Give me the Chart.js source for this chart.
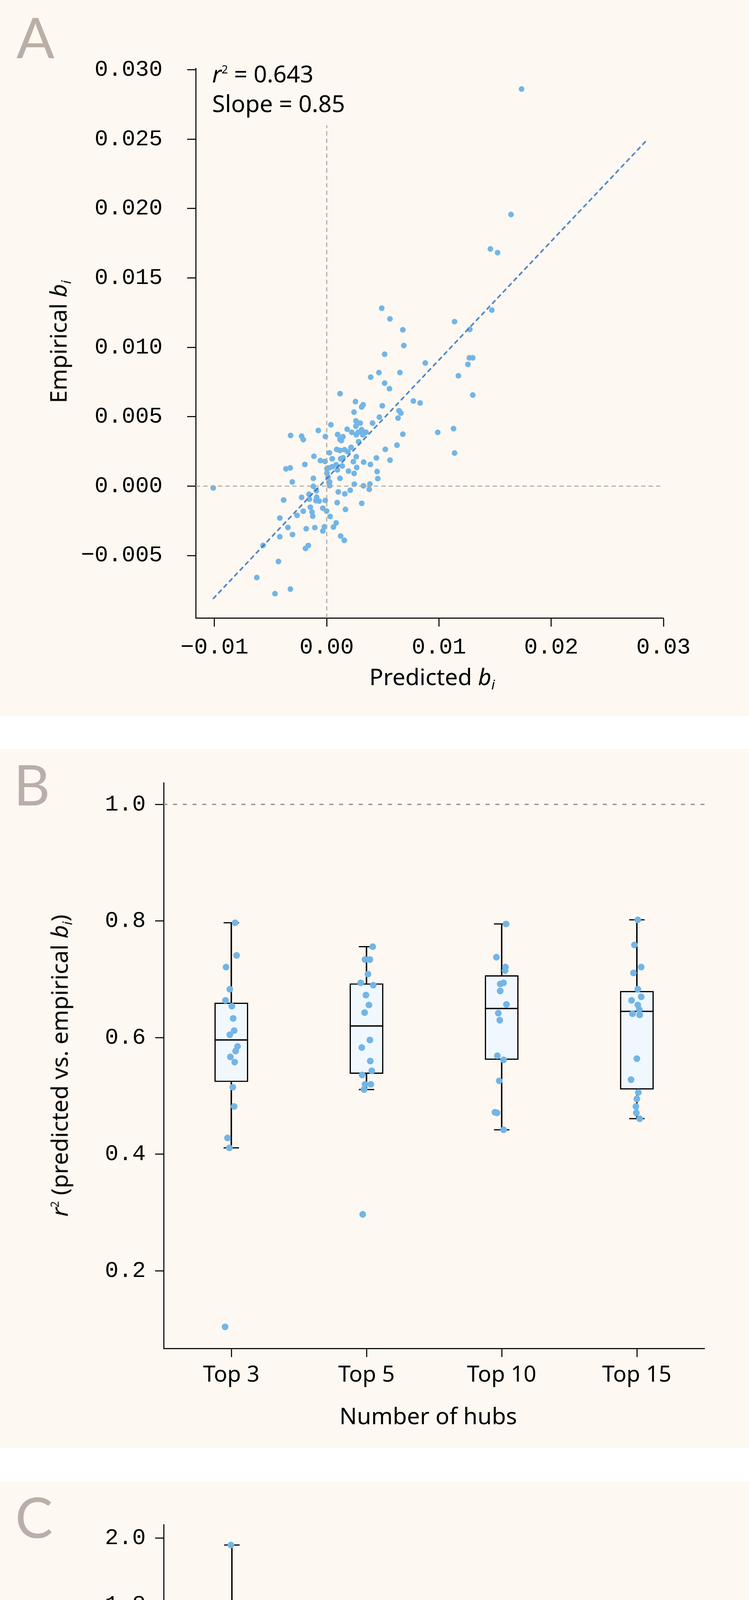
<!DOCTYPE html>
<html>
<head>
<meta charset="utf-8">
<script src="https://cdn.jsdelivr.net/npm/chart.js@4.4.1/dist/chart.umd.min.js"></script>
<style>
  body { margin: 0; background: #fff; width: 1917px; }
  .panel { position: relative; width: 1917px; background: #fdf8f1; overflow: hidden; }
  .panel canvas { position: absolute; left: 0; top: 0; }
  .gap { height: 84px; }
  .letter { position: absolute; font-family: Lato, "Noto Sans", sans-serif; font-weight: 400;
            font-size: 144px; line-height: 1; color: #b9afa6; }
  .title { position: absolute; font-family: "Noto Sans", sans-serif; font-size: 59px;
           line-height: 1; color: #000; white-space: nowrap; }
  .title sub { font-size: 0.6em; vertical-align: -0.3em; line-height: 0; font-style: italic; }
  .title sup { font-size: 0.48em; vertical-align: 0.8em; line-height: 0; }
  .xt { transform: translateX(-50%); }
  .yt { transform: translate(-50%, -50%) rotate(-90deg); }
  .note { font-size: 60px; }
</style>
</head>
<body>

<div class="panel" style="height:1833px">
  <canvas id="chartA" width="1917" height="1833"></canvas>
  <div class="letter" style="left:42px; top:22px">A</div>
  <div class="title note" style="left:543px; top:158px"><i>r</i><sup>2</sup> = 0.643</div>
  <div class="title note" style="left:543px; top:234px">Slope = 0.85</div>
  <div class="title xt" style="left:1106px; top:1702px">Predicted <i>b</i><sub>i</sub></div>
  <div class="title yt" style="left:148px; top:875px">Empirical <i>b</i><sub>i</sub></div>
</div>
<div class="gap"></div>
<div class="panel" style="height:1790px">
  <canvas id="chartB" width="1917" height="1790"></canvas>
  <div class="letter" style="left:35px; top:18px">B</div>
  <div class="title xt" style="left:1096px; top:1677px">Number of hubs</div>
  <div class="title yt" style="left:151px; top:811px"><i>r</i><sup>2</sup> (predicted vs. empirical <i>b</i><sub>i</sub>)</div>
</div>
<div class="gap" style="height:86px"></div>
<div class="panel" style="height:1874px">
  <canvas id="chartC" width="1917" height="1874"></canvas>
  <div class="letter" style="left:39px; top:17px">C</div>
  <div class="title xt" style="left:1100px; top:1698px">Number of hubs</div>
  <div class="title yt" style="left:148px; top:829px">Slope (predicted vs. empirical <i>b</i><sub>i</sub>)</div>
</div>

<script>
// ---------- panel A: predicted vs empirical b_i ----------
const predA = [
  0.01736, 0.01642, 0.01458, 0.01522, 0.0049, 0.00563, 0.00678, 0.00687, 0.00516, 0.01139,
  0.01275, 0.01471, 0.00878, 0.01271, 0.01301, 0.01258, 0.01173, 0.01301, 0.00465, 0.00392,
  0.00652, 0.00516, 0.00559, 0.00119, 0.00772, 0.00832, 0.00495, 0.00644, 0.00661, 0.00635,
  0.00469, 0.00256, 0.00324, 0.00311, 0.00243, 0.0026, 0.00678, 0.00989, 0.0113, 0.01139,
  -0.01011, -0.00567, -0.00623, -0.00461, -0.00324,
  0.00037, -0.00075, -0.00322, -0.00224, -0.00209, -0.00012, 0.00182, 0.00223, 0.0026, 0.00298,
  0.00408, 0.00311, 0.0035, 0.00321, 0.00263, 0.00281, 0.00097, 0.00144, 0.00118, 0.0013,
  0.00284, 0.00626, 0.00522, 0.00217, 0.00089, 0.00118, 0.00159, 0.00188, 0.00024, -0.00114,
  0.00049, -0.00056, -0.00015, 0.00124, 0.00145, 0.00263, 0.00443, 0.00564, 0.00237, 0.00329,
  0.00389, -0.00195, 0.00084, 0.00049, 0.0002, 0.00002, 0.00138, 0.00267, -0.00363, -0.00325,
  0.00095, 0.00194, 0.00244, 0.00449, 0.00455, 0.00002, 0.00012, -0.00119, 0.00118, -0.00307,
  0.00026, 0.00026, 0.00246, 0.00327, 0.00385, 0.00379, -0.00119, -0.00093, 0.00209, 0.00103,
  0.00161, -0.00158, -0.00224, -0.00154, -0.0009, -0.00096, -0.00067, -0.00013, -0.00384, 0.00093,
  0.00312, -0.00146, -0.00035, -0.00001, -0.00209, -0.00131, -0.00125, 0.00167, -0.00264, 0.00031,
  -0.00418, 0.00084, 0.0006, -0.00346, -0.00183, -0.00106, -0.00021, -0.00035, -0.00305, -0.00418,
  0.00124, 0.00157, -0.00164, -0.00189, -0.0043
];
const empA = [
  0.02861, 0.01957, 0.01709, 0.01682, 0.01282, 0.01205, 0.01126, 0.01013, 0.0095, 0.01185,
  0.01129, 0.01268, 0.00887, 0.00924, 0.00924, 0.00877, 0.00795, 0.00656, 0.00818, 0.00785,
  0.00818, 0.00742, 0.00702, 0.00666, 0.00613, 0.00599, 0.00579, 0.00543, 0.00526, 0.0049,
  0.00497, 0.00609, 0.00586, 0.0057, 0.00533, 0.0047, 0.00374, 0.00387, 0.00414, 0.00238,
  -0.00013, -0.00427, -0.00659, -0.00775, -0.00742,
  0.00442, 0.00401, 0.00365, 0.0036, 0.00335, 0.00357, 0.0041, 0.00388, 0.00432, 0.00454,
  0.00454, 0.00407, 0.00388, 0.0037, 0.0037, 0.00388, 0.00372, 0.00356, 0.00337, 0.00328,
  0.0032, 0.00295, 0.00265, 0.00279, 0.00264, 0.00257, 0.00262, 0.00248, 0.0024, 0.00215,
  0.00197, 0.00184, 0.00178, 0.00197, 0.00204, 0.00212, 0.00203, 0.00187, 0.00176, 0.00173,
  0.00156, 0.00156, 0.00154, 0.0014, 0.00131, 0.00126, 0.00145, 0.00134, 0.00124, 0.00131,
  0.00117, 0.00108, 0.00091, 0.00105, 0.00054, 0.00094, 0.00066, 0.00056, 0.00056, 0.0003,
  0.0003, 0.00003, 0.00014, 0.00002, 0.00015, -0.00023, -0.00002, -0.00033, -0.0003, -0.00042,
  -0.00056, -0.00058, -0.00081, -0.00094, -0.0008, -0.00105, -0.00108, -0.00103, -0.001, -0.00119,
  -0.00124, -0.00152, -0.00159, -0.0018, -0.00181, -0.00187, -0.00217, -0.00168, -0.00211, -0.00219,
  -0.0023, -0.00265, -0.00295, -0.00298, -0.00307, -0.00299, -0.00293, -0.00323, -0.00349, -0.00365,
  -0.0036, -0.00391, -0.00428, -0.00449, -0.00543
];
const xTicksA = [-0.01, 0, 0.01, 0.02, 0.03];
const yTicksA = [-0.005, 0, 0.005, 0.01, 0.015, 0.02, 0.025, 0.03];
const xRangeA = [-0.01167, 0.03];
const yRangeA = [-0.0095, 0.0301];
const fitSlopeA = 0.855;
const fitInterceptA = 0.00054;
const fitSpanA = [-0.0101, 0.0285];
const zeroLineTopA = 0.026;

// ---------- panels B and C: per number of hubs ----------
const hubLabels = ['Top 3', 'Top 5', 'Top 10', 'Top 15'];

const r2Top3  = [0.797, 0.741, 0.721, 0.683, 0.664, 0.654, 0.633, 0.612, 0.605, 0.585, 0.577, 0.567, 0.558, 0.515, 0.482, 0.428, 0.411, 0.104];
const r2Top5  = [0.756, 0.734, 0.734, 0.709, 0.694, 0.690, 0.673, 0.656, 0.643, 0.596, 0.583, 0.560, 0.543, 0.536, 0.520, 0.520, 0.511, 0.297];
const r2Top10 = [0.795, 0.738, 0.721, 0.715, 0.694, 0.692, 0.680, 0.657, 0.642, 0.630, 0.569, 0.562, 0.526, 0.472, 0.471, 0.442];
const r2Top15 = [0.802, 0.759, 0.721, 0.711, 0.683, 0.664, 0.670, 0.656, 0.648, 0.641, 0.639, 0.564, 0.528, 0.506, 0.495, 0.482, 0.471, 0.461];
const r2Jit3  = [0.028, 0.039, -0.039, -0.011, -0.043, 0.004, 0.014, 0.021, -0.011, 0.046, 0.032, -0.007, 0.025, 0.011, 0.021, -0.028, -0.014, -0.046];
const r2Jit5  = [0.046, -0.011, 0.025, 0.011, -0.043, 0.050, -0.004, 0.018, -0.014, 0.025, -0.035, 0.028, 0.039, -0.032, 0.032, -0.011, -0.018, -0.028];
const r2Jit10 = [0.032, -0.039, 0.028, 0.025, 0.014, -0.011, -0.011, 0.035, -0.025, -0.014, -0.032, 0.014, -0.018, -0.050, -0.035, 0.014];
const r2Jit15 = [0.007, -0.018, 0.032, -0.025, 0.007, -0.039, 0.032, 0.007, 0.018, -0.032, 0.021, 0, -0.043, 0.011, 0, -0.007, -0.004, 0.021];
const r2Q1     = [0.524, 0.538, 0.562, 0.511];
const r2Median = [0.596, 0.620, 0.650, 0.645];
const r2Q3     = [0.660, 0.693, 0.707, 0.680];
const r2Low    = [0.411, 0.511, 0.442, 0.461];
const r2High   = [0.797, 0.756, 0.795, 0.802];
const yTicksB = [0.2, 0.4, 0.6, 0.8, 1.0];
const yRangeB = [0.067, 1.037];

const slopeTop3  = [1.979, 1.626, 1.589, 1.518, 1.431, 1.314, 1.162, 1.124, 0.969, 0.881, 0.842, 0.832, 0.765, 0.655, 0.628, 0.608, 0.540, 0.518];
const slopeTop5  = [1.611, 1.320, 1.241, 1.179, 1.082, 1.070, 1.063, 0.938, 0.855, 0.802, 0.784, 0.765, 0.747, 0.742, 0.692, 0.595, 0.570, 0.506];
const slopeTop10 = [1.164, 1.095, 1.083, 0.873, 0.815, 0.806, 0.806, 0.802, 0.759, 0.711, 0.682, 0.675, 0.644, 0.613, 0.601, 0.500, 0.486, 0.430];
const slopeTop15 = [1.105, 0.985, 0.889, 0.818, 0.795, 0.778, 0.762, 0.734, 0.701, 0.688, 0.651, 0.638, 0.558, 0.558, 0.506, 0.497, 0.460, 0.414];
const slopeJit3  = [-0.007, -0.039, 0.028, -0.035, 0.004, 0.018, 0.014, -0.007, 0.025, 0.025, 0.035, 0.046, -0.007, 0.042, 0.025, -0.014, -0.028, -0.042];
const slopeJit5  = [-0.042, 0.046, 0.025, -0.004, -0.011, -0.021, -0.032, 0.049, -0.014, 0.028, 0.025, -0.032, 0.039, -0.035, 0.011, -0.014, 0.018, 0.035];
const slopeJit10 = [-0.035, 0.032, 0.018, 0.032, 0, -0.021, 0.025, 0.014, -0.028, 0.035, 0.021, -0.011, -0.025, 0.018, 0, -0.046, -0.021, -0.035];
const slopeJit15 = [-0.018, 0.028, 0.007, -0.007, -0.028, 0.004, -0.035, 0.007, 0.018, -0.039, 0.014, -0.042, 0.004, 0.028, -0.004, -0.007, 0.007, 0.021];
const slopeQ1     = [0.684, 0.744, 0.621, 0.558];
const slopeMedian = [0.925, 0.831, 0.735, 0.695];
const slopeQ3     = [1.401, 1.079, 0.814, 0.791];
const slopeLow    = [0.517, 0.506, 0.430, 0.414];
const slopeHigh   = [1.979, 1.320, 1.093, 1.105];
const yTicksC = [0.4, 0.6, 0.8, 1.0, 1.2, 1.4, 1.6, 1.8, 2.0];
const yRangeC = [0.353, 2.040];

const catRange = [-0.5, 3.5];
const refValue = 1.0;

// ---------- shared styling ----------
const MONO = { family: '"Liberation Mono", "DejaVu Sans Mono", monospace', size: 58 };
const SANS = { family: '"Noto Sans", sans-serif', size: 57 };
const DOT = '#72b5e6';
const LINE_W = 2.7;

function fmt(v, d) {
  return (v < 0 ? '\u2212' : '') + Math.abs(v).toFixed(d);
}

function axis(extra) {
  return Object.assign({
    type: 'linear',
    grid: { drawOnChartArea: false, drawTicks: true, tickLength: 22, tickWidth: LINE_W, tickColor: '#000', offset: false },
    border: { display: true, color: '#000', width: LINE_W }
  }, extra);
}

function fixTicks(values) {
  return function (scale) { scale.ticks = values.map(v => ({ value: v })); };
}
function fixWidth(w) {
  return function (scale) { scale.width = w; scale.paddingTop = 0; scale.paddingBottom = 0; };
}
function fixHeight(h) {
  return function (scale) { scale.height = h; scale.paddingLeft = 0; scale.paddingRight = 0; };
}

const baseOptions = {
  responsive: false,
  animation: false,
  events: [],
  plugins: { legend: { display: false }, tooltip: { enabled: false } }
};

// ---------- chart A ----------
new Chart(document.getElementById('chartA'), {
  type: 'scatter',
  data: {
    datasets: [
      {
        data: predA.map((x, i) => ({ x: x, y: empA[i] })),
        pointRadius: 7.3, pointBorderWidth: 0, backgroundColor: DOT, order: 3
      },
      {
        data: [{ x: xRangeA[0], y: 0 }, { x: xRangeA[1], y: 0 }],
        showLine: true, pointRadius: 0, borderColor: '#aaa6a1', borderWidth: 2.6,
        borderDash: [11, 8], order: 2
      },
      {
        data: [{ x: 0, y: yRangeA[0] }, { x: 0, y: zeroLineTopA }],
        showLine: true, pointRadius: 0, borderColor: '#aaa6a1', borderWidth: 2.6,
        borderDash: [11, 8], order: 2
      },
      {
        data: fitSpanA.map(x => ({ x: x, y: fitSlopeA * x + fitInterceptA })),
        showLine: true, pointRadius: 0, borderColor: 'rgba(58, 118, 196, 0.88)', borderWidth: 4.2,
        borderDash: [9, 11], borderCapStyle: 'round', order: 1
      }
    ]
  },
  options: Object.assign({}, baseOptions, {
    layout: { padding: { left: 0, top: 175, right: 219, bottom: 0 } },
    scales: {
      x: axis({
        position: 'bottom', min: xRangeA[0], max: xRangeA[1],
        afterBuildTicks: fixTicks(xTicksA), afterFit: fixHeight(1833 - 1582),
        ticks: { font: MONO, color: '#000', padding: 19, maxRotation: 0, autoSkip: false,
                 callback: v => fmt(v, 2) }
      }),
      y: axis({
        position: 'left', min: yRangeA[0], max: yRangeA[1],
        afterBuildTicks: fixTicks(yTicksA), afterFit: fixWidth(501),
        ticks: { font: MONO, color: '#000', padding: 63, autoSkip: false,
                 callback: v => fmt(v, 3) }
      })
    }
  })
});

// ---------- box + strip charts ----------
function unitPx(chart, units) {
  const x = chart.scales.x;
  return Math.abs(x.getPixelForValue(units) - x.getPixelForValue(0));
}

function boxChart(id, g) {
  const points = [];
  g.values.forEach((vals, gi) => {
    vals.forEach((v, k) => points.push({ x: gi + g.jitter[gi][k], y: v }));
  });
  const idx = hubLabels.map((_, i) => i);

  new Chart(document.getElementById(id), {
    type: 'bar',
    data: {
      datasets: [
        {
          type: 'bar', data: idx.map(i => ({ x: i, y: [g.q1[i], g.q3[i]] })),
          backgroundColor: '#f0f8fd', borderColor: '#000', borderWidth: 3.3, borderSkipped: false,
          grouped: false, barPercentage: 0.25, categoryPercentage: 1, order: 7
        },
        {
          type: 'bar', data: idx.map(i => ({ x: i, y: [g.low[i], g.q1[i]] })),
          backgroundColor: '#000', barThickness: 3, grouped: false, order: 6
        },
        {
          type: 'bar', data: idx.map(i => ({ x: i, y: [g.q3[i], g.high[i]] })),
          backgroundColor: '#000', barThickness: 3, grouped: false, order: 6
        },
        {
          type: 'scatter',
          data: idx.map(i => ({ x: i, y: g.low[i] })).concat(idx.map(i => ({ x: i, y: g.high[i] }))),
          pointStyle: 'line', pointBorderColor: '#000', pointBorderWidth: 3,
          pointRadius: c => unitPx(c.chart, 0.057), order: 5
        },
        {
          type: 'scatter', data: idx.map(i => ({ x: i, y: g.median[i] })),
          pointStyle: 'line', pointBorderColor: '#000', pointBorderWidth: 3.4,
          pointRadius: c => unitPx(c.chart, 0.125), order: 4
        },
        {
          type: 'scatter', data: [{ x: catRange[0], y: refValue }, { x: catRange[1], y: refValue }],
          showLine: true, pointRadius: 0, borderColor: '#9a958f', borderWidth: 3.4,
          borderDash: [8, 17], borderCapStyle: 'round', order: 2
        },
        {
          type: 'scatter', data: points,
          pointRadius: 8.6, pointBorderWidth: 0, backgroundColor: DOT, order: 1
        }
      ]
    },
    options: Object.assign({}, baseOptions, {
      layout: { padding: { left: 0, top: g.top, right: 1917 - g.right, bottom: 0 } },
      scales: {
        x: axis({
          position: 'bottom', min: catRange[0], max: catRange[1], offset: false,
          afterBuildTicks: fixTicks(idx), afterFit: fixHeight(g.height - g.bottom),
          ticks: { font: SANS, color: '#000', padding: 13, maxRotation: 0, autoSkip: false,
                   callback: v => hubLabels[v] }
        }),
        y: axis({
          position: 'left', min: g.yRange[0], max: g.yRange[1], beginAtZero: false,
          afterBuildTicks: fixTicks(g.yTicks), afterFit: fixWidth(419),
          ticks: { font: MONO, color: '#000', padding: 24, autoSkip: false,
                   callback: v => v.toFixed(1) }
        })
      }
    })
  });
}

boxChart('chartB', {
  values: [r2Top3, r2Top5, r2Top10, r2Top15],
  jitter: [r2Jit3, r2Jit5, r2Jit10, r2Jit15],
  q1: r2Q1, median: r2Median, q3: r2Q3, low: r2Low, high: r2High,
  yTicks: yTicksB, yRange: yRangeB,
  height: 1790, top: 87, bottom: 1535, right: 1803
});

boxChart('chartC', {
  values: [slopeTop3, slopeTop5, slopeTop10, slopeTop15],
  jitter: [slopeJit3, slopeJit5, slopeJit10, slopeJit15],
  q1: slopeQ1, median: slopeMedian, q3: slopeQ3, low: slopeLow, high: slopeHigh,
  yTicks: yTicksC, yRange: yRangeC,
  height: 1874, top: 110, bottom: 1556, right: 1815
});
</script>
</body>
</html>
